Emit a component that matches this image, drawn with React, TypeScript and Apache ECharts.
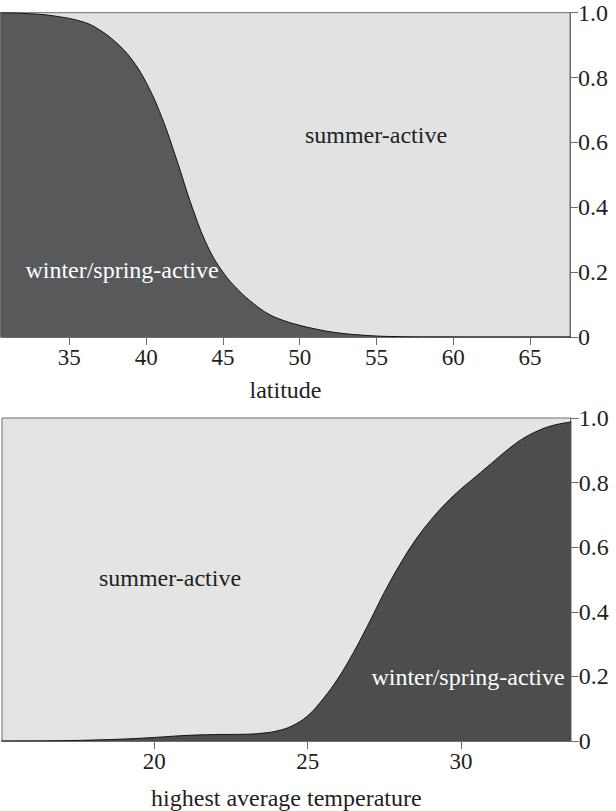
import React, { useEffect, useRef } from "react";
import * as echarts from "echarts";

// Top panel: proportion winter/spring-active vs latitude
const latitude = [30.5, 32, 34, 36, 37, 38, 39, 40, 41, 42, 43, 44, 45, 46, 47, 48, 49, 50, 51, 52, 53, 54, 55, 56, 58, 67.7];
const winterByLatitude = [1.0, 0.998, 0.99, 0.97, 0.946, 0.91, 0.86, 0.785, 0.68, 0.545, 0.4, 0.28, 0.2, 0.145, 0.103, 0.07, 0.05, 0.036, 0.025, 0.016, 0.01, 0.006, 0.003, 0.0015, 0.0003, 0.0];
const latitudeTicks = [35, 40, 45, 50, 55, 60, 65];

// Bottom panel: proportion winter/spring-active vs highest average temperature
const temperature = [15.0, 17, 18, 19, 20, 21, 22, 23, 23.5, 24, 24.5, 25, 25.5, 26, 26.5, 27, 27.5, 28, 28.5, 29, 29.5, 30, 30.5, 31, 31.5, 32, 32.5, 33, 33.6];
const winterByTemperature = [0.0, 0.001, 0.003, 0.006, 0.011, 0.017, 0.02, 0.021, 0.024, 0.031, 0.047, 0.078, 0.13, 0.195, 0.275, 0.365, 0.46, 0.545, 0.62, 0.682, 0.735, 0.78, 0.82, 0.86, 0.9, 0.935, 0.96, 0.977, 0.988];
const temperatureTicks = [20, 25, 30];

const FONT = "'Liberation Serif', 'Times New Roman', Times, serif";
const TEXT = "#231f20";
const AXIS = "#6d6e70";

export default function App() {
  const ref = useRef<HTMLDivElement>(null);
  useEffect(() => {
    if (!ref.current) return;
    const chart = echarts.init(ref.current, null, { renderer: "svg" });
    const yAxisBase = (gridIndex: number) => ({
      type: "value",
      gridIndex,
      position: "right",
      min: 0,
      max: 1,
      interval: 0.2,
      axisLine: { show: true, lineStyle: { color: AXIS, width: 1 } },
      axisTick: { show: true, length: 8, lineStyle: { color: AXIS } },
      splitLine: { show: false },
      axisLabel: {
        margin: 8,
        fontFamily: FONT,
        fontSize: 24,
        color: TEXT,
        formatter: (v: number) => (v === 0 ? "0" : v.toFixed(1)),
      },
    });
    const xAxisBase = (gridIndex: number, min: number, max: number, ticks: number[], name: string, nameGap: number) => ({
      type: "value",
      gridIndex,
      min,
      max,
      name,
      nameLocation: "middle",
      nameGap,
      nameTextStyle: { fontFamily: FONT, fontSize: 24, color: TEXT },
      axisLine: { show: true, onZero: false, lineStyle: { color: AXIS, width: 1 } },
      axisTick: { show: true, length: 8, lineStyle: { color: AXIS }, customValues: ticks },
      splitLine: { show: false },
      axisLabel: {
        margin: 9,
        fontFamily: FONT,
        fontSize: 23,
        color: TEXT,
        customValues: ticks,
      },
    });
    const label = (text: string, x: number, y: number, fill: string) => ({
      type: "text",
      x,
      y,
      z: 100,
      style: { text, fontFamily: FONT, fontSize: 24, fill, textAlign: "center", textVerticalAlign: "middle" },
    });
    chart.setOption({
      animation: false,
      textStyle: { fontFamily: FONT },
      grid: [
        { left: 1, top: 12.7, width: 569, height: 324.3, show: true, backgroundColor: "#e1e2e4", borderColor: AXIS, borderWidth: 1 },
        { left: 2, top: 418, width: 568.7, height: 324.3, show: true, backgroundColor: "#e3e4e4", borderColor: AXIS, borderWidth: 1 },
      ],
      xAxis: [
        xAxisBase(0, 30.55, 67.6, latitudeTicks, "latitude", 41),
        xAxisBase(1, 15.03, 33.58, temperatureTicks, "highest average temperature", 45),
      ],
      yAxis: [yAxisBase(0), yAxisBase(1)],
      series: [
        {
          type: "line",
          xAxisIndex: 0,
          yAxisIndex: 0,
          data: latitude.map((x, i) => [x, winterByLatitude[i]]),
          smooth: 0.4,
          showSymbol: false,
          lineStyle: { color: "#111", width: 1 },
          areaStyle: { color: "#58595b", opacity: 1 },
        },
        {
          type: "line",
          xAxisIndex: 1,
          yAxisIndex: 1,
          data: temperature.map((x, i) => [x, winterByTemperature[i]]),
          smooth: 0.4,
          showSymbol: false,
          lineStyle: { color: "#111", width: 1 },
          areaStyle: { color: "#4c4e4d", opacity: 1 },
        },
      ],
      graphic: [
        label("summer-active", 376, 135, TEXT),
        label("winter/spring-active", 122, 270, "#ffffff"),
        label("summer-active", 170, 578, TEXT),
        label("winter/spring-active", 468, 677, "#ffffff"),
      ],
    });
    return () => chart.dispose();
  }, []);
  return <div ref={ref} style={{ position: "fixed", left: 0, top: 0, width: 616, height: 811, background: "#fff" }} />;
}
